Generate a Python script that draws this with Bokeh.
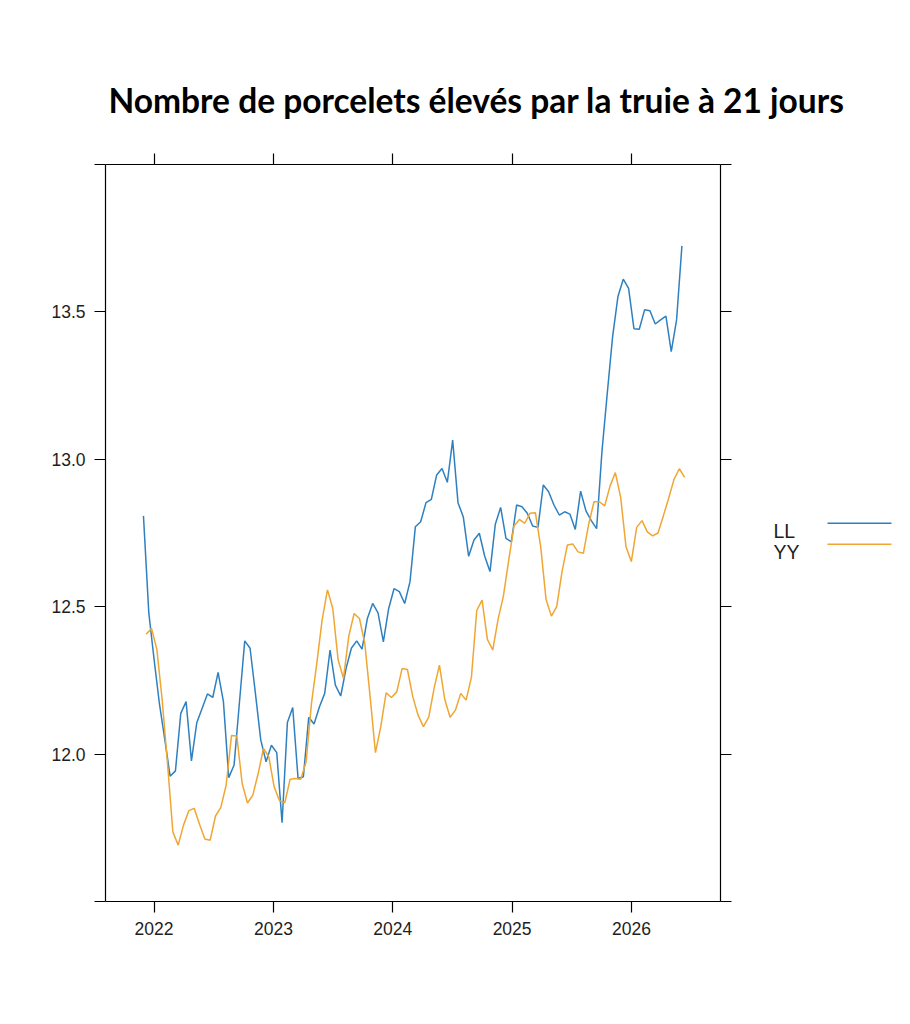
import numpy as np
from bokeh.plotting import figure
from bokeh.layouts import row, column
from bokeh.models import LinearAxis, FixedTicker, Range1d, CustomJSTickFormatter
from bokeh.core.properties import value
from bokeh.embed import file_html
from bokeh.resources import INLINE

# ---- data ----
title_text = "Nombre de porcelets élevés par la truie à 21 jours"
series_names = ["LL", "YY"]

ll_start = 2021.911      # decimal year of first LL observation
yy_start = 2021.934      # decimal year of first YY observation
obs_step = 0.04467       # years between observations

ll_values = [
    12.808, 12.48, 12.32, 12.17, 12.05, 11.925, 11.943, 12.138, 12.178, 11.977,
    12.106, 12.155, 12.204, 12.192, 12.277, 12.178, 11.92, 11.963, 12.174, 12.384,
    12.359, 12.206, 12.048, 11.974, 12.03, 12.005, 11.767, 12.107, 12.158, 11.917,
    11.923, 12.125, 12.102, 12.16, 12.206, 12.353, 12.234, 12.197, 12.29, 12.359,
    12.384, 12.356, 12.46, 12.511, 12.479, 12.381, 12.494, 12.561, 12.551, 12.511,
    12.585, 12.771, 12.788, 12.853, 12.864, 12.947, 12.969, 12.922, 13.065, 12.853,
    12.804, 12.671, 12.726, 12.749, 12.672, 12.619, 12.78, 12.837, 12.732, 12.72,
    12.845, 12.839, 12.817, 12.774, 12.769, 12.913, 12.89, 12.845, 12.811, 12.822,
    12.814, 12.762, 12.892, 12.825, 12.792, 12.765, 13.026, 13.224, 13.416, 13.552,
    13.611, 13.58, 13.443, 13.441, 13.507, 13.504, 13.459, 13.473, 13.486, 13.365,
    13.473, 13.724,
]

yy_values = [
    12.407, 12.426, 12.355, 12.183, 11.968, 11.736, 11.691, 11.759, 11.808, 11.816,
    11.762, 11.712, 11.708, 11.79, 11.819, 11.895, 12.063, 12.061, 11.9, 11.834,
    11.861, 11.934, 12.019, 11.991, 11.889, 11.842, 11.835, 11.915, 11.917, 11.915,
    11.974, 12.172, 12.308, 12.455, 12.557, 12.494, 12.319, 12.257, 12.40, 12.477,
    12.46, 12.376, 12.195, 12.005, 12.093, 12.208, 12.192, 12.211, 12.29, 12.287,
    12.195, 12.132, 12.093, 12.125, 12.223, 12.302, 12.186, 12.125, 12.149, 12.206,
    12.183, 12.26, 12.487, 12.522, 12.389, 12.353, 12.457, 12.536, 12.658, 12.774,
    12.796, 12.783, 12.817, 12.819, 12.703, 12.525, 12.468, 12.5, 12.619, 12.709,
    12.713, 12.686, 12.681, 12.78, 12.856, 12.856, 12.842, 12.909, 12.955, 12.871,
    12.703, 12.653, 12.769, 12.792, 12.754, 12.74, 12.75, 12.808, 12.868, 12.932,
    12.968, 12.939,
]

x_ticks = [2022, 2023, 2024, 2025, 2026]
y_ticks = [11.5, 12.0, 12.5, 13.0, 13.5, 14.0]

colors = ["#2f80c0", "#f0a632"]

ll_x = ll_start + obs_step * np.arange(len(ll_values))
yy_x = yy_start + obs_step * np.arange(len(yy_values))

TITLE_BORDER = 120      # space above the title strip's (tiny) frame
TITLE_FRAME = 2
FRAME_W, FRAME_H = 615, 737
TOP = 164               # page y of the chart frame top
MAIN_TOP = TOP - TITLE_BORDER - TITLE_FRAME
BOTTOM_BORDER = 880 - FRAME_H - MAIN_TOP

# ---- title strip: a figure used only for its title ----
tf = figure(frame_width=795, frame_height=TITLE_FRAME, min_border_left=105, min_border_right=0,
            min_border_top=TITLE_BORDER, min_border_bottom=0,
            x_range=Range1d(0, 1), y_range=Range1d(0, 1),
            x_axis_type=None, y_axis_type=None,
            output_backend="svg", toolbar_location=None)
tf.outline_line_color = None
tf.xgrid.visible = False
tf.ygrid.visible = False
tf.border_fill_color = "white"
tf.title.text = title_text
tf.title.align = "left"
tf.title.offset = 3
tf.title.standoff = 1
tf.title.text_font = "Lato"
tf.title.text_font_style = "bold"
tf.title.text_font_size = "33.5px"
tf.title.text_color = "black"

# ---- main chart ----
p = figure(frame_width=FRAME_W, frame_height=FRAME_H,
           min_border_left=105, min_border_right=40, min_border_top=MAIN_TOP,
           min_border_bottom=BOTTOM_BORDER,
           x_range=Range1d(2021.593, 2026.746), y_range=Range1d(11.4999, 14.0001),
           x_axis_type=None, y_axis_type=None,
           output_backend="svg", toolbar_location=None)
p.outline_line_color = None
p.xgrid.visible = False
p.ygrid.visible = False
p.background_fill_color = "white"
p.border_fill_color = "white"

xfmt = CustomJSTickFormatter(code="return tick.toFixed(0);")
yfmt = CustomJSTickFormatter(code="return (tick < 11.9 || tick > 13.9) ? '' : tick.toFixed(1);")
blank = CustomJSTickFormatter(code="return '';")

def style(ax, ticks, fmt, labelled=True):
    ax.ticker = FixedTicker(ticks=ticks)
    ax.formatter = fmt
    ax.major_tick_out = 11
    ax.major_tick_in = 0
    ax.minor_tick_out = 0
    ax.minor_tick_in = 0
    ax.axis_line_color = "black"
    ax.axis_line_width = 1.2
    ax.major_tick_line_color = "black"
    ax.major_tick_line_width = 1.2
    ax.major_label_text_font = "Liberation Sans"
    ax.major_label_text_font_size = "17.5px" if labelled else "8px"
    ax.major_label_text_color = "#1e1e1e"
    ax.major_label_standoff = 9 if labelled else 0

bottom = LinearAxis(); style(bottom, x_ticks, xfmt); p.add_layout(bottom, "below")
top = LinearAxis(); style(top, x_ticks, blank, False); p.add_layout(top, "above")
left = LinearAxis(); style(left, y_ticks, yfmt); p.add_layout(left, "left")
right = LinearAxis(); style(right, y_ticks, blank, False); p.add_layout(right, "right")

p.line(ll_x, ll_values, line_color=colors[0], line_width=1.5)
p.line(yy_x, yy_values, line_color=colors[1], line_width=1.5)

# ---- legend panel: pixel-unit figure beside the chart, frame aligned with the chart frame ----
LW = 140
lg = figure(frame_width=LW, frame_height=FRAME_H, min_border=0,
            x_range=Range1d(0, LW), y_range=Range1d(TOP + FRAME_H, TOP),
            x_axis_type=None, y_axis_type=None,
            output_backend="svg", toolbar_location=None)
lg.outline_line_color = None
lg.xgrid.visible = False
lg.ygrid.visible = False
lg.border_fill_color = "white"
leg_text_x = [13, 13]
leg_text_y = [530, 551.5]
leg_line_y = [522.7, 543.7]
lg.text(x=leg_text_x, y=leg_text_y, text=series_names,
        text_font=value("Liberation Sans"), text_font_size="19.5px",
        text_color="#1e1e1e", text_align="left", text_baseline="alphabetic")
lg.segment(x0=[67, 67], y0=leg_line_y, x1=[131, 131], y1=leg_line_y,
           line_color=colors, line_width=1.5)

layout = column(tf, row(p, lg))
open("out.html", "w").write(file_html(layout, INLINE))
